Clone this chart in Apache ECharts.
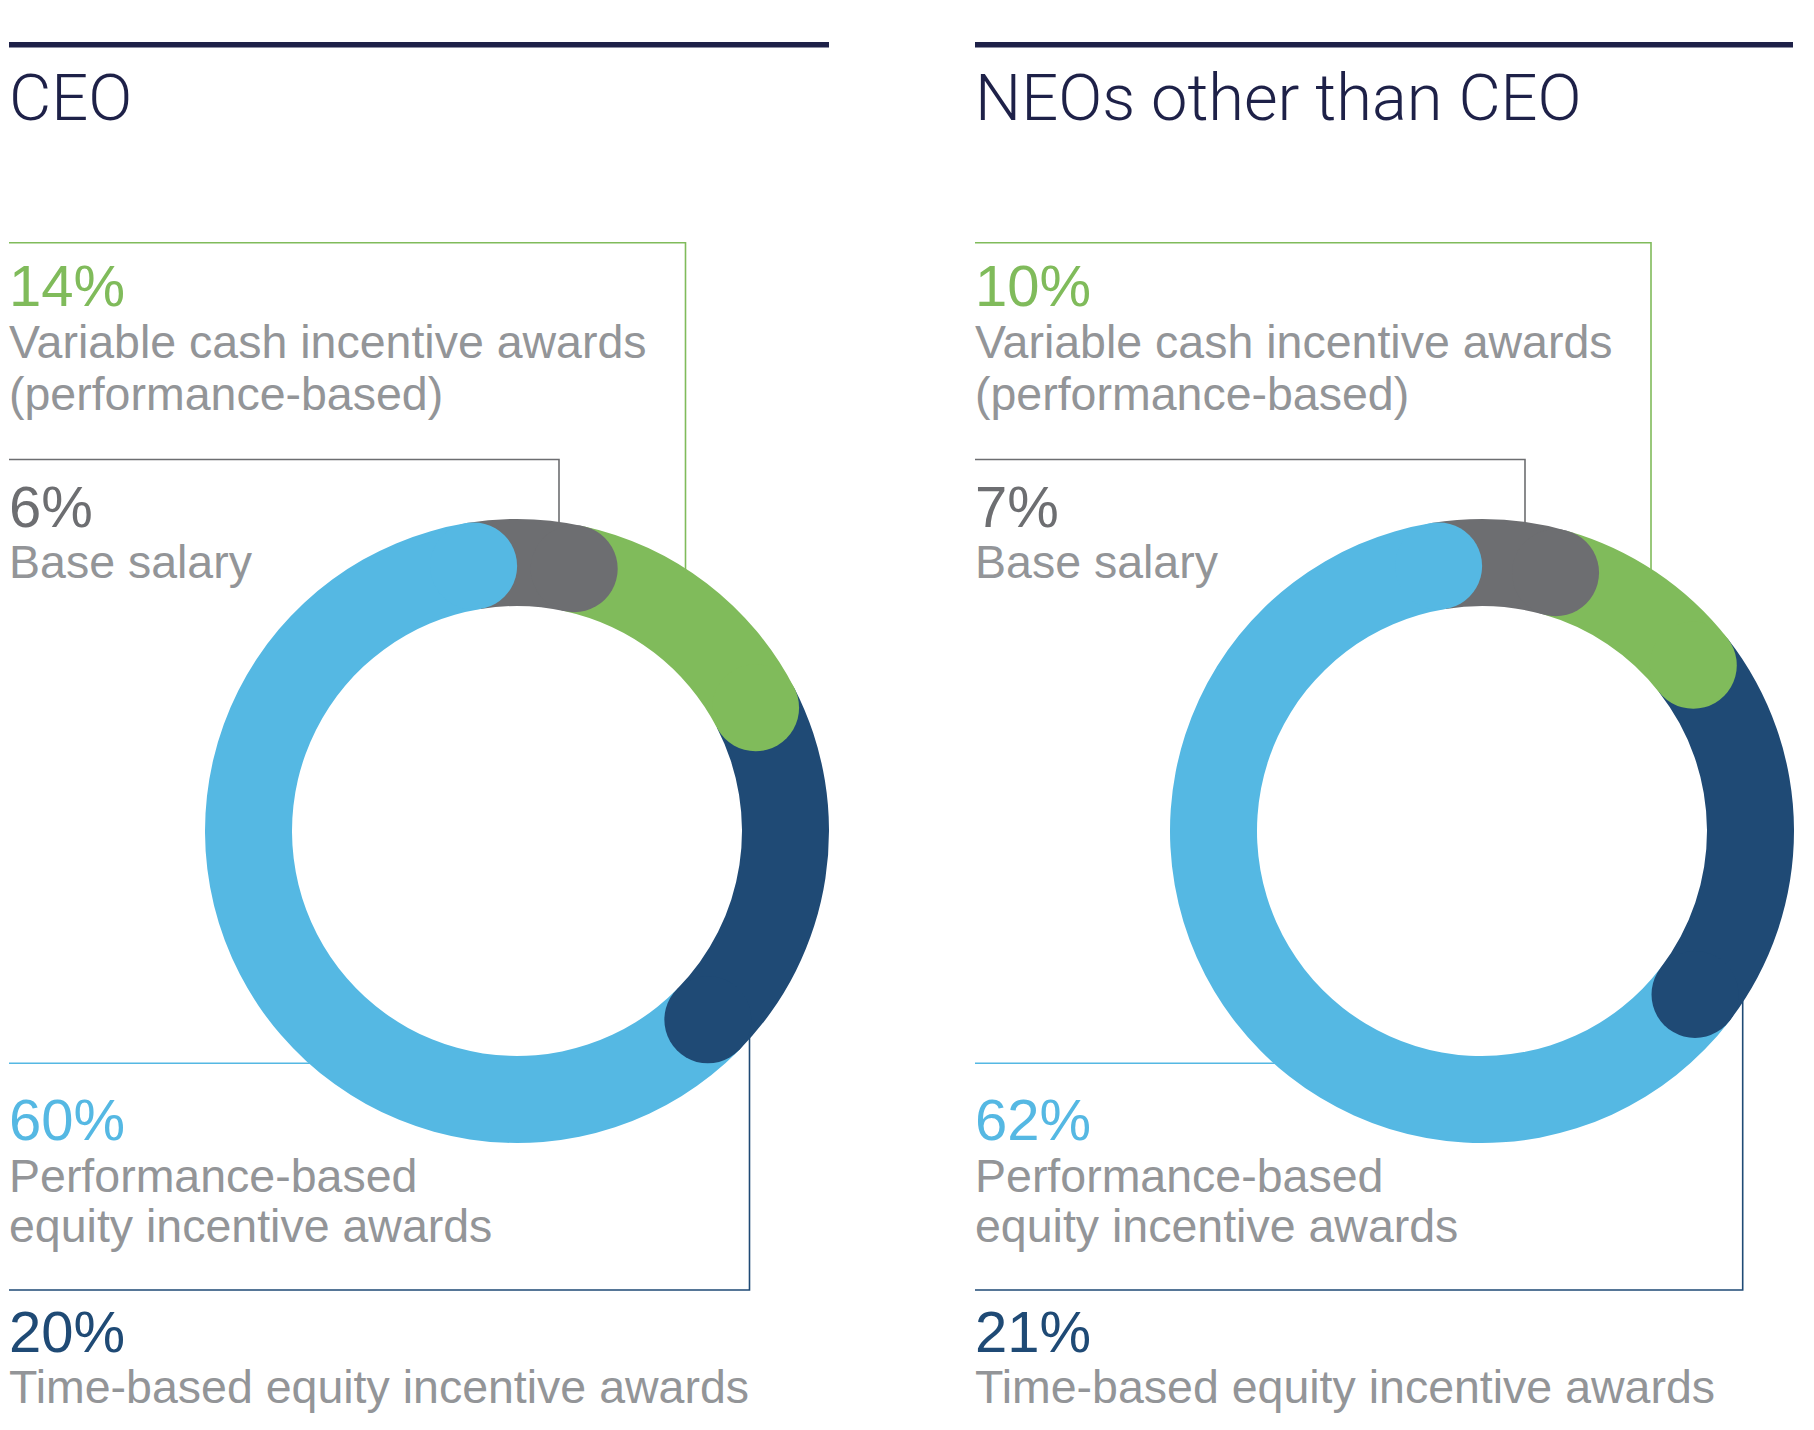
<!DOCTYPE html>
<html>
<head>
<meta charset="utf-8">
<script src="https://cdn.jsdelivr.net/npm/echarts@6/dist/echarts.min.js"></script>
<style>
  html, body { margin: 0; padding: 0; background: #ffffff; }
  #chart { width: 1814px; height: 1430px; }
</style>
</head>
<body>
<div id="chart"></div>
<script>
// ---------------- DATA ----------------
const panelTitles = ['CEO', 'NEOs other than CEO'];
const categories = [
  'Base salary',
  'Variable cash incentive awards (performance-based)',
  'Time-based equity incentive awards',
  'Performance-based equity incentive awards'
];
const labelLines = [
  ['Base salary'],
  ['Variable cash incentive awards', '(performance-based)'],
  ['Time-based equity incentive awards'],
  ['Performance-based', 'equity incentive awards']
];
const ceoValues = [6, 14, 20, 60];
const neoValues = [7, 10, 21, 62];
const panelValues = [ceoValues, neoValues];

// ---------------- STYLE / LAYOUT ----------------
const segColors = ['#6d6e71', '#80bb5b', '#1f4a75', '#55b8e3'];
const pctColors = ['#6d6e71', '#80bb5b', '#1f4a75', '#55b8e3'];
const bodyColor = '#939598';
const titleColor = '#1e2148';
const bodyFont = '"Liberation Sans", Arial, sans-serif';
const titleFont = 'Roboto, "Liberation Sans", sans-serif';
const panelX = [9, 975];
const centers = [[517, 831], [1482, 831]];
const innerR = 225, outerR = 312;
const startAngle = 99.3;

// label block baselines (pct baseline, body line baselines), per category index
const blockPos = {
  1: { pct: 306, body: [358.5, 410.5] },
  0: { pct: 527, body: [578.5] },
  3: { pct: 1140, body: [1191.7, 1242.5] },
  2: { pct: 1351.7, body: [1403.3] }
};
// connector polylines per panel
const connectors = [
  [
    { c: 1, pts: [[9, 242.7], [685.5, 242.7], [685.5, 640]] },
    { c: 0, pts: [[9, 459.5], [559, 459.5], [559, 560]] },
    { c: 3, pts: [[9, 1063.3], [350, 1063.3]] },
    { c: 2, pts: [[9, 1290], [749.5, 1290], [749.5, 1000]] }
  ],
  [
    { c: 1, pts: [[975, 242.7], [1651, 242.7], [1651, 640]] },
    { c: 0, pts: [[975, 459.5], [1525, 459.5], [1525, 560]] },
    { c: 3, pts: [[975, 1063.3], [1320, 1063.3]] },
    { c: 2, pts: [[975, 1290], [1742.7, 1290], [1742.7, 960]] }
  ]
];
const ruleSpans = [[9, 829], [975, 1793]];

function textEl(str, x, baseline, size, color, family, weight) {
  const k = family === titleFont ? 0.342 : 0.3465;
  return {
    type: 'text', z: 10, silent: true,
    style: {
      text: str, x: x, y: baseline - k * size,
      font: (weight || 400) + ' ' + size + 'px ' + family,
      fill: color, align: 'left', verticalAlign: 'middle'
    }
  };
}

const graphics = [];
const polar = [], angleAxis = [], radiusAxis = [], series = [];

panelValues.forEach((vals, p) => {
  const x0 = panelX[p];
  graphics.push({
    type: 'rect', z: 1, silent: true,
    shape: { x: ruleSpans[p][0], y: 42, width: ruleSpans[p][1] - ruleSpans[p][0], height: 5.5 },
    style: { fill: titleColor }
  });
  graphics.push(textEl(panelTitles[p], x0, 120, 65, titleColor, titleFont, 300));
  connectors[p].forEach(cn => {
    graphics.push({
      type: 'polyline', z: 0, silent: true,
      shape: { points: cn.pts },
      style: { stroke: segColors[cn.c], lineWidth: 1.6, fill: null }
    });
  });
  vals.forEach((v, i) => {
    const pos = blockPos[i];
    graphics.push(textEl(v + '%', x0, pos.pct, 58, pctColors[i], bodyFont));
    labelLines[i].forEach((ln, j) => {
      graphics.push(textEl(ln, x0, pos.body[j], 46.5, bodyColor, bodyFont));
    });
  });

  polar.push({ center: centers[p], radius: [innerR, outerR] });
  angleAxis.push({
    polarIndex: p, type: 'value', min: 0, max: 100, startAngle: startAngle, clockwise: true,
    show: false, axisLine: { show: false }, axisTick: { show: false },
    axisLabel: { show: false }, splitLine: { show: false }
  });
  radiusAxis.push({
    polarIndex: p, type: 'category', data: [panelTitles[p]], show: false,
    axisLine: { show: false }, axisTick: { show: false }, axisLabel: { show: false }
  });
  vals.forEach((v, i) => {
    series.push({
      type: 'bar', coordinateSystem: 'polar', polarIndex: p, stack: 'ring' + p,
      name: categories[i], data: [v], barWidth: '100%', z: 2, silent: true,
      itemStyle: { color: segColors[i] }
    });
  });
  // round caps at the end of each segment (cumulative positions)
  let cum = 0;
  const caps = vals.map((v, i) => {
    cum += v;
    return { value: [0, cum], itemStyle: { color: segColors[i], opacity: 1 } };
  });
  series.push({
    type: 'scatter', coordinateSystem: 'polar', polarIndex: p, z: 3, silent: true,
    symbol: 'circle', symbolSize: outerR - innerR, data: caps
  });
});

const chart = echarts.init(document.getElementById('chart'), null, { renderer: 'svg', width: 1814, height: 1430 });
chart.setOption({
  animation: false,
  backgroundColor: '#ffffff',
  polar: polar,
  angleAxis: angleAxis,
  radiusAxis: radiusAxis,
  series: series,
  graphic: { elements: graphics }
});
</script>
</body>
</html>
